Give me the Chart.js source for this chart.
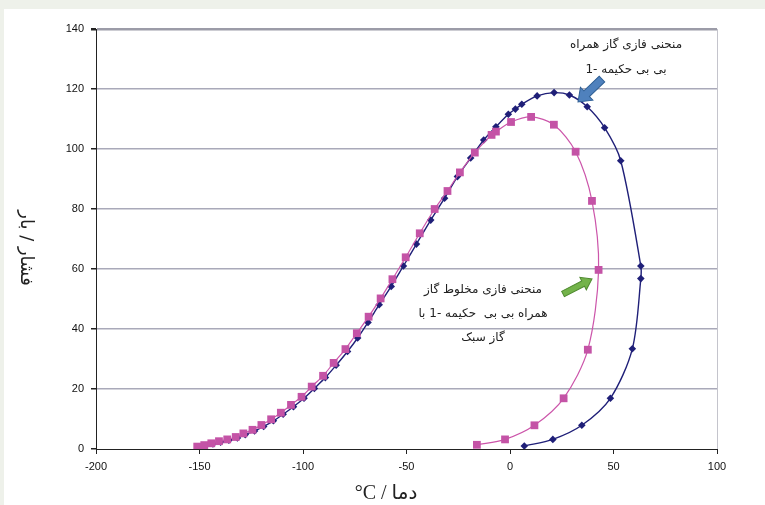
<!DOCTYPE html>
<html>
<head>
<meta charset="utf-8">
<script src="https://cdn.jsdelivr.net/npm/chart.js@4"></script>
<style>
  body { margin: 0; background: #eef1ea; }
  #wrap { position: absolute; left: 0; top: 0; width: 765px; height: 505px; }
</style>
</head>
<body>
<div id="wrap"><canvas id="myChart" width="765" height="505"></canvas></div>
<script>
// values
// mixed gas (pink squares)
const pinkX = [-151.1, -147.7, -144.3, -140.6, -136.6, -132.5, -128.8, -124.4, -120.1, -115.4, -110.7, -105.8, -100.7,
  -95.8, -90.3, -85.2, -79.5, -74.0, -68.3, -62.5, -56.8, -50.4, -43.6, -36.4, -30.2, -24.2, -17.0, -8.9, -6.8, 0.5,
  10.2, 21.2, 31.7, 39.6, 42.8, 37.6, 25.9, 11.8, -2.4, -16.0];
const pinkY = [0.8, 1.3, 1.9, 2.6, 3.2, 4.0, 5.2, 6.4, 8.0, 9.9, 12.1, 14.7, 17.4,
  20.8, 24.4, 28.7, 33.3, 38.6, 44.1, 50.2, 56.6, 63.9, 71.9, 80.0, 86.0, 92.2, 98.8, 104.7, 105.8, 109.0,
  110.7, 108.1, 99.1, 82.7, 59.7, 33.1, 16.9, 7.9, 3.2, 1.4];

// associated gas (blue diamonds)
const blueX = [-150.4, -147.0, -143.5, -139.8, -135.8, -131.7, -127.9, -123.4, -119.0, -114.3, -109.6, -104.6, -99.5,
  -94.5, -89.2, -84.0, -78.5, -73.6, -68.6, -63.2, -57.4, -51.5, -45.2, -38.3, -31.6, -25.4, -19.0, -12.7, -6.8, -0.8,
  2.6, 5.7, 13.1, 21.3, 28.7, 37.3, 45.7, 53.5, 63.2, 63.2, 59.1, 48.5, 34.7, 20.7, 6.9];
const blueY = [0.6, 1.1, 1.7, 2.3, 2.9, 3.7, 4.8, 6.0, 7.5, 9.4, 11.6, 14.1, 16.9,
  20.2, 23.8, 27.9, 32.5, 37.0, 42.2, 48.1, 54.2, 61.0, 68.3, 76.3, 83.6, 90.8, 97.0, 103.0, 107.4, 111.6,
  113.3, 114.9, 117.7, 118.8, 118.0, 114.1, 107.1, 96.1, 61.0, 56.8, 33.4, 16.9, 7.9, 3.2, 1.0];

const xTicks = [-200, -150, -100, -50, 0, 50, 100];
const yTicks = [0, 20, 40, 60, 80, 100, 120, 140];

const note1 = ['منحنی فازی گاز همراه', 'بی بی حکیمه -1'];
const note2 = ['منحنی فازی مخلوط گاز', 'همراه بی بی  حکیمه -1 با', 'گاز سبک'];
const xTitle = '°C / دما';
const yTitle = 'فشار / بار';

function toPoints(xs, ys) {
  return xs.map((x, i) => ({ x: x, y: ys[i] }));
}

// arrow shape drawn from tail to tip
function blockArrow(ctx, x1, y1, x2, y2, shaft, head, headLen, fill, stroke) {
  const a = Math.atan2(y2 - y1, x2 - x1);
  const len = Math.hypot(x2 - x1, y2 - y1);
  ctx.save();
  ctx.translate(x1, y1);
  ctx.rotate(a);
  ctx.beginPath();
  ctx.moveTo(0, -shaft / 2);
  ctx.lineTo(len - headLen, -shaft / 2);
  ctx.lineTo(len - headLen, -head / 2);
  ctx.lineTo(len, 0);
  ctx.lineTo(len - headLen, head / 2);
  ctx.lineTo(len - headLen, shaft / 2);
  ctx.lineTo(0, shaft / 2);
  ctx.closePath();
  ctx.fillStyle = fill;
  ctx.fill();
  ctx.lineWidth = 1;
  ctx.strokeStyle = stroke;
  ctx.stroke();
  ctx.restore();
}

// page frame behind the chart
const framePlugin = {
  id: 'frame',
  beforeDraw(chart) {
    const ctx = chart.ctx;
    ctx.save();
    ctx.fillStyle = '#eef1ea';
    ctx.fillRect(0, 0, 765, 505);
    ctx.fillStyle = '#ffffff';
    ctx.fillRect(4, 9, 761, 496);
    ctx.restore();
  }
};

// titles, notes and arrows
const notesPlugin = {
  id: 'notes',
  afterDraw(chart) {
    const ctx = chart.ctx;
    const area = chart.chartArea;
    ctx.save();
    // right border of the plot
    ctx.strokeStyle = '#c4c4cc';
    ctx.lineWidth = 1;
    ctx.beginPath();
    ctx.moveTo(area.right + 0.5, area.top);
    ctx.lineTo(area.right + 0.5, area.bottom);
    ctx.stroke();

    ctx.fillStyle = '#222';
    ctx.textAlign = 'center';
    ctx.textBaseline = 'middle';
    ctx.direction = 'rtl';
    ctx.font = '12px "DejaVu Sans"';
    note1.forEach((t, i) => ctx.fillText(t, 626, 45 + i * 25));
    note2.forEach((t, i) => ctx.fillText(t, 483, 290 + i * 24));

    ctx.direction = 'ltr';
    ctx.font = '20px "Liberation Serif", "DejaVu Sans"';
    ctx.fillText(xTitle, 386, 494);

    ctx.save();
    ctx.translate(26, 248);
    ctx.rotate(Math.PI / 2);
    ctx.font = '18px "DejaVu Sans"';
    ctx.fillText(yTitle, 0, 0);
    ctx.restore();
    ctx.restore();

    blockArrow(ctx, 602, 79, 578, 102, 8, 18, 12, '#4f81bd', '#2f5f94');
    blockArrow(ctx, 563, 294, 592, 279, 6, 14, 10, '#73b34a', '#4f8a30');
  }
};

const ctx = document.getElementById('myChart').getContext('2d');
const chart = new Chart(ctx, {
  type: 'scatter',
  data: {
    datasets: [
      {
        label: 'mixed',
        data: toPoints(pinkX, pinkY),
        showLine: true,
        tension: 0.3,
        borderColor: '#cc55aa',
        borderWidth: 1.2,
        pointStyle: 'rect',
        pointRadius: 5.5,
        pointBackgroundColor: '#c453a6',
        pointBorderColor: '#c453a6',
        pointBorderWidth: 0
      },
      {
        label: 'associated',
        data: toPoints(blueX, blueY),
        showLine: true,
        tension: 0.3,
        borderColor: '#1f1f78',
        borderWidth: 1.4,
        pointStyle: 'rectRot',
        pointRadius: 3.8,
        pointBackgroundColor: '#1f1f78',
        pointBorderColor: '#1f1f78',
        pointBorderWidth: 0
      }
    ]
  },
  options: {
    responsive: false,
    devicePixelRatio: 1,
    animation: false,
    layout: { padding: { top: 29, right: 48, left: 0, bottom: 0 } },
    plugins: { legend: { display: false }, tooltip: { enabled: false } },
    scales: {
      x: {
        type: 'linear',
        min: -200,
        max: 100,
        afterBuildTicks: s => { s.ticks = xTicks.map(v => ({ value: v })); },
        afterFit: s => { s.height = 56; },
        border: { color: '#222', width: 1 },
        grid: { drawOnChartArea: false, drawTicks: true, tickLength: 5, tickColor: '#222' },
        ticks: { color: '#111', font: { family: '"Liberation Sans"', size: 11 }, padding: 6, maxRotation: 0 }
      },
      y: {
        type: 'linear',
        min: 0,
        max: 140,
        afterBuildTicks: s => { s.ticks = yTicks.map(v => ({ value: v })); },
        afterFit: s => { s.width = 96; },
        border: { color: '#222', width: 1 },
        grid: {
          color: c => (c.tick && c.tick.value === 0) ? 'rgba(0,0,0,0)' : (c.tick && c.tick.value === 140 ? '#9c9ca8' : '#a9a9b9'),
          lineWidth: c => (c.tick && c.tick.value === 140) ? 2.5 : 1.5,
          drawTicks: true,
          tickLength: 5,
          tickColor: '#222'
        },
        ticks: { color: '#111', font: { family: '"Liberation Sans"', size: 11 }, padding: 7 }
      }
    }
  },
  plugins: [framePlugin, notesPlugin]
});
</script>
</body>
</html>
